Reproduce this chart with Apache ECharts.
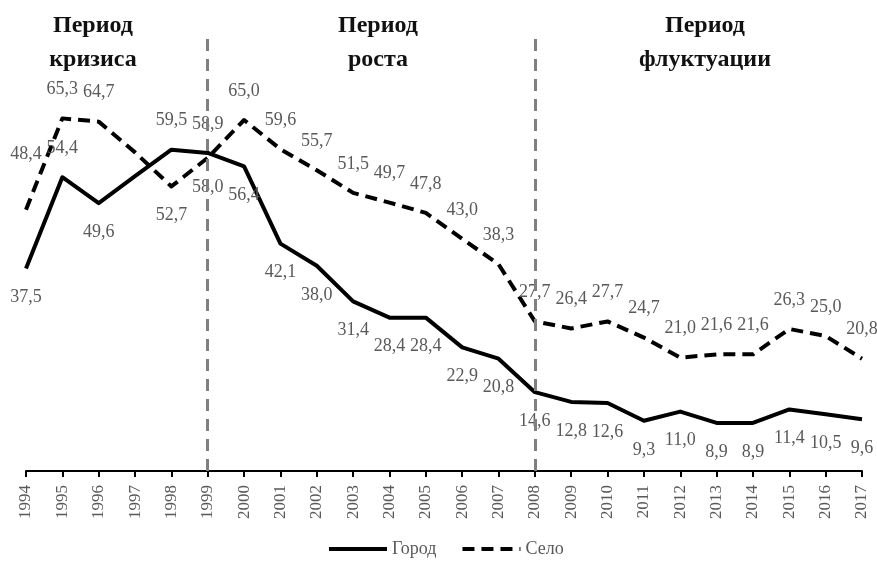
<!DOCTYPE html>
<html>
<head>
<meta charset="utf-8">
<script src="https://cdn.jsdelivr.net/npm/echarts@6/dist/echarts.min.js"></script>
<style>
  html, body { margin: 0; padding: 0; background: #fff; }
  #chart { width: 877px; height: 565px; }
</style>
</head>
<body>
<div id="chart"></div>
<script>
var years = ['1994','1995','1996','1997','1998','1999','2000','2001','2002','2003','2004','2005',
             '2006','2007','2008','2009','2010','2011','2012','2013','2014','2015','2016','2017'];
var gorod = [37.5, 54.4, 49.6, 54.6, 59.5, 58.9, 56.4, 42.1, 38.0, 31.4, 28.4, 28.4,
             22.9, 20.8, 14.6, 12.8, 12.6, 9.3, 11.0, 8.9, 8.9, 11.4, 10.5, 9.6];
var selo  = [48.4, 65.3, 64.7, 59.0, 52.7, 58.0, 65.0, 59.6, 55.7, 51.5, 49.7, 47.8,
             43.0, 38.3, 27.7, 26.4, 27.7, 24.7, 21.0, 21.6, 21.6, 26.3, 25.0, 20.8];
var periodLines = ['1999', '2008'];

// где подписи стоят не по умолчанию
var gorodAbove = ['1995', '1998', '1999'];
var seloBelow = ['1998', '1999'];
var noLabel = ['1997'];

var serif = '"Liberation Serif", "DejaVu Serif", serif';

function buildData(values, isCity) {
  return values.map(function (v, i) {
    var y = years[i];
    var item = { value: v };
    if (noLabel.indexOf(y) >= 0) {
      item.label = { show: false };
    } else if (isCity && gorodAbove.indexOf(y) >= 0) {
      item.label = { position: 'top' };
    } else if (!isCity && seloBelow.indexOf(y) >= 0) {
      item.label = { position: 'bottom' };
    } else if (!isCity && y === '1994') {
      item.label = { position: 'top', distance: 46 };
    }
    return item;
  });
}

var labelFmt = function (p) { return p.value.toFixed(1).replace('.', ','); };

var chart = echarts.init(document.getElementById('chart'));
var titleStyle = { fontFamily: serif, fontSize: 24, fontWeight: 'bold', color: '#111', lineHeight: 34, align: 'center' };
var option = {
  animation: false,
  title: [
    { text: 'Период\nкризиса', left: 88, top: 4, textAlign: 'center', textStyle: titleStyle },
    { text: 'Период\nроста', left: 373, top: 4, textAlign: 'center', textStyle: titleStyle },
    { text: 'Период\nфлуктуации', left: 700, top: 4, textAlign: 'center', textStyle: titleStyle }
  ],
  grid: { left: 26, right: 15, top: 39, bottom: 94 },
  legend: {
    bottom: 2,
    left: 322,
    itemWidth: 58,
    itemHeight: 12,
    itemGap: 24,
    itemStyle: { opacity: 0 },
    lineStyle: { width: 4 },
    textStyle: { fontFamily: serif, fontSize: 18, color: '#595959' },
    data: ['Город', 'Село']
  },
  xAxis: {
    type: 'category',
    data: years,
    boundaryGap: false,
    axisLine: { lineStyle: { color: '#000', width: 2 } },
    axisTick: { show: true, length: 6, lineStyle: { color: '#000', width: 2 } },
    axisLabel: { rotate: 90, margin: 14, fontFamily: serif, fontSize: 17, color: '#595959' }
  },
  yAxis: {
    type: 'value', min: 0, max: 80, show: false,
    splitLine: { show: false }
  },
  series: [
    {
      name: 'Город',
      type: 'line',
      data: buildData(gorod, true),
      symbol: 'circle',
      symbolSize: 0,
      showAllSymbol: true,
      lineStyle: { color: '#000', width: 4, join: 'round' },
      itemStyle: { color: '#000' },
      label: {
        show: true, position: 'bottom', distance: 20, formatter: labelFmt,
        fontFamily: serif, fontSize: 18, color: '#595959'
      },
      markLine: {
        silent: true,
        symbol: 'none',
        label: { show: false },
        lineStyle: { color: '#808080', width: 3, type: [12, 8] },
        data: periodLines.map(function (y) { return { xAxis: y }; })
      },
      z: 3
    },
    {
      name: 'Село',
      type: 'line',
      data: buildData(selo, false),
      symbol: 'circle',
      symbolSize: 0,
      showAllSymbol: true,
      lineStyle: { color: '#000', width: 4, type: [12, 7], join: 'round' },
      itemStyle: { color: '#000' },
      label: {
        show: true, position: 'top', distance: 20, formatter: labelFmt,
        fontFamily: serif, fontSize: 18, color: '#595959'
      },
      z: 3
    }
  ]
};
chart.setOption(option);
</script>
</body>
</html>
